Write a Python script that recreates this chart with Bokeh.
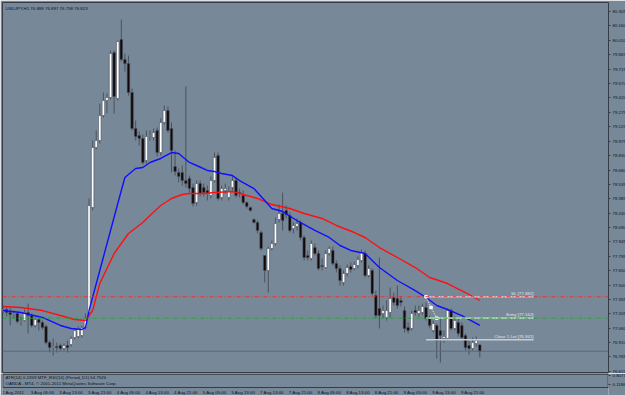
from bokeh.plotting import figure
from bokeh.layouts import column
from bokeh.models import (Range1d, FixedTicker, Span, Label, ColumnDataSource,
                          PrintfTickFormatter)
from bokeh.core.properties import value
from bokeh.embed import file_html
from bokeh.resources import INLINE

# ---------------- data (USDJPY H1) ----------------
opens = [77.230, 77.251, 77.220, 77.199, 77.210, 77.128, 77.138, 77.220, 77.189, 77.087,
         77.148, 77.118, 77.077, 76.912, 76.861, 76.871, 76.881, 76.851, 76.881, 76.892,
         76.964, 76.974, 76.984, 77.066, 77.220, 78.296, 78.911, 78.983, 79.239, 79.393,
         79.424, 79.885, 79.414, 80.018, 79.813, 79.772, 79.475, 79.106, 79.034, 79.004,
         78.778, 79.024, 79.014, 79.086, 78.860, 79.168, 79.291, 79.106, 78.717, 78.655,
         78.655, 78.573, 78.594, 78.501, 78.348, 78.542, 78.501, 78.471, 78.419, 78.573,
         78.829, 78.399, 78.471, 78.399, 78.501, 78.573, 78.450, 78.419, 78.348, 78.296,
         78.173, 78.143, 78.040, 77.804, 77.651, 77.876, 77.927, 78.173, 78.235, 78.266,
         78.214, 78.081, 78.102, 78.143, 77.989, 77.804, 77.774, 77.886, 77.825, 77.702,
         77.681, 77.825, 77.856, 77.722, 77.671, 77.528, 77.620, 77.692, 77.671, 77.702,
         77.753, 77.825, 77.599, 77.651, 77.394, 77.261, 77.210, 77.169, 77.220, 77.374,
         77.363, 77.343, 77.240, 77.066, 77.056, 77.240, 77.210, 77.220, 77.271, 77.159,
         77.035, 77.087, 77.035, 76.954, 76.954, 77.240, 77.056, 77.118, 77.087, 76.984,
         76.881, 76.851, 76.902, 76.888]
highs = [77.292, 77.282, 77.271, 77.240, 77.230, 77.179, 77.251, 77.312, 77.210, 77.169,
         77.169, 77.138, 77.097, 76.933, 76.954, 76.912, 76.902, 76.902, 76.933, 76.974,
         77.056, 77.077, 77.087, 77.210, 78.389, 78.983, 79.086, 79.362, 79.475, 79.465,
         79.906, 79.906, 80.008, 80.223, 79.875, 79.854, 79.516, 79.188, 79.075, 79.045,
         79.086, 79.086, 79.106, 79.116, 79.209, 79.342, 79.332, 79.168, 78.880, 78.696,
         78.727, 79.537, 78.624, 78.542, 78.573, 78.573, 78.542, 78.522, 78.614, 78.860,
         78.860, 78.522, 78.542, 78.512, 78.614, 78.604, 78.491, 78.471, 78.358, 78.307,
         78.184, 78.163, 78.061, 77.804, 77.897, 77.958, 78.194, 78.327, 78.450, 78.317,
         78.245, 78.143, 78.184, 78.163, 78.009, 77.856, 77.958, 77.927, 77.856, 77.774,
         77.856, 77.897, 77.897, 77.753, 77.702, 77.651, 77.712, 77.733, 77.743, 77.794,
         77.866, 77.856, 77.702, 77.671, 77.445, 77.784, 77.292, 77.343, 77.476, 77.425,
         77.497, 77.384, 77.282, 77.118, 77.240, 77.292, 77.292, 77.312, 77.323, 77.189,
         77.138, 77.107, 77.159, 77.035, 77.261, 77.261, 77.179, 77.159, 77.118, 77.005,
         76.933, 76.964, 76.974, 76.897]
lows = [77.199, 77.179, 77.087, 77.159, 77.107, 77.087, 77.128, 77.005, 77.066, 77.066,
        77.035, 77.046, 76.892, 76.810, 76.779, 76.810, 76.830, 76.830, 76.810, 76.871,
        76.943, 76.954, 76.964, 77.046, 77.199, 78.266, 78.891, 78.952, 79.219, 79.260,
        79.403, 79.260, 79.393, 79.793, 79.690, 79.444, 79.086, 78.983, 78.932, 78.737,
        78.747, 78.983, 78.983, 78.819, 78.829, 79.147, 79.065, 78.655, 78.624, 78.553,
        78.522, 78.501, 78.450, 78.307, 78.317, 78.409, 78.409, 78.368, 78.389, 78.553,
        78.368, 78.368, 78.440, 78.368, 78.471, 78.399, 78.399, 78.327, 78.286, 78.255,
        78.132, 78.030, 77.856, 77.528, 77.425, 77.856, 77.907, 78.143, 78.061, 78.184,
        78.040, 78.030, 78.061, 77.958, 77.753, 77.753, 77.753, 77.804, 77.651, 77.651,
        77.671, 77.804, 77.702, 77.630, 77.497, 77.497, 77.589, 77.630, 77.651, 77.671,
        77.733, 77.579, 77.579, 77.394, 77.159, 77.056, 77.159, 77.138, 77.169, 77.292,
        77.261, 77.282, 77.015, 77.005, 77.035, 77.189, 77.179, 77.199, 77.138, 77.056,
        77.015, 76.748, 76.707, 76.912, 76.933, 77.035, 77.035, 76.974, 76.933, 76.830,
        76.789, 76.830, 76.871, 76.758]
closes = [77.251, 77.220, 77.199, 77.210, 77.128, 77.138, 77.220, 77.189, 77.087, 77.148,
          77.118, 77.066, 76.912, 76.861, 76.871, 76.861, 76.851, 76.881, 76.861, 76.954,
          77.035, 77.056, 77.066, 77.159, 78.317, 78.911, 78.983, 79.239, 79.393, 79.424,
          79.875, 79.434, 79.998, 79.813, 79.772, 79.475, 79.106, 79.024, 79.004, 78.758,
          79.024, 79.034, 79.065, 78.860, 79.168, 79.291, 79.086, 78.880, 78.665, 78.614,
          78.573, 78.542, 78.491, 78.337, 78.542, 78.440, 78.450, 78.440, 78.573, 78.809,
          78.389, 78.491, 78.491, 78.471, 78.573, 78.419, 78.440, 78.348, 78.307, 78.266,
          78.143, 78.061, 77.876, 77.651, 77.876, 77.927, 78.132, 78.235, 78.163, 78.225,
          78.061, 78.112, 78.132, 77.989, 77.784, 77.784, 77.927, 77.825, 77.671, 77.692,
          77.825, 77.876, 77.722, 77.671, 77.548, 77.620, 77.681, 77.661, 77.712, 77.763,
          77.835, 77.599, 77.671, 77.415, 77.189, 77.189, 77.240, 77.240, 77.363, 77.323,
          77.292, 77.323, 77.056, 77.035, 77.210, 77.220, 77.240, 77.282, 77.159, 77.087,
          77.107, 76.933, 76.984, 76.974, 77.240, 77.056, 77.138, 77.005, 76.964, 76.861,
          76.851, 76.912, 76.933, 76.823]

# moving averages (bar index, price)
ma_fast_idx = [0, 5, 11, 16, 19, 22, 23, 24, 27, 30, 33, 34, 37, 39, 41, 44, 47, 49, 52, 54,
               57, 59, 61, 64, 66, 70, 73, 75, 78, 82, 87, 91, 94, 97, 101, 105, 110, 115,
               118, 121, 124, 128, 133]
ma_fast = [77.240, 77.220, 77.169, 77.087, 77.056, 77.046, 77.066, 77.240, 77.651, 78.061,
           78.471, 78.604, 78.696, 78.706, 78.758, 78.799, 78.860, 78.850, 78.758, 78.727,
           78.676, 78.665, 78.645, 78.624, 78.573, 78.491, 78.368, 78.286, 78.255, 78.163,
           78.061, 77.989, 77.907, 77.856, 77.825, 77.681, 77.548, 77.445, 77.374, 77.292,
           77.251, 77.189, 77.087]
ma_slow_idx = [0, 5, 11, 16, 20, 23, 25, 27, 31, 35, 39, 41, 44, 47, 50, 52, 56, 59, 64, 66,
               71, 75, 80, 84, 89, 93, 98, 101, 105, 110, 115, 119, 124, 129, 133]
ma_slow = [77.282, 77.271, 77.240, 77.189, 77.148, 77.138, 77.240, 77.517, 77.825, 78.030,
           78.143, 78.214, 78.317, 78.389, 78.430, 78.440, 78.440, 78.450, 78.460, 78.440,
           78.389, 78.327, 78.286, 78.235, 78.184, 78.112, 78.040, 77.989, 77.886, 77.784,
           77.681, 77.579, 77.517, 77.425, 77.343]

# trade levels
level_names = ["SL", "Entry", "Close 1 Lot"]
level_prices = [77.382, 77.162, 76.941]
level_start = [118, 118, 118]
level_end = [148, 148, 148]
trade_idx = [118, 119.4, 121]
trade_px = [77.382, 77.272, 77.162]

price_ticks = [80.305, 80.160, 80.010, 79.865, 79.715, 79.570, 79.420, 79.275, 79.125,
               78.975, 78.830, 78.680, 78.535, 78.385, 78.240, 78.090, 77.945, 77.795,
               77.650, 77.500, 77.355, 77.205, 77.060, 76.910, 76.765, 76.615]
time_label_idx = [0, 8, 16, 24, 32, 40, 48, 56, 64, 72, 80, 88, 96, 104, 112, 120, 128]
time_labels = ["2 Aug 2011", "3 Aug 05:00", "3 Aug 13:00", "3 Aug 21:00", "4 Aug 05:00",
               "4 Aug 13:00", "4 Aug 21:00", "5 Aug 05:00", "5 Aug 13:00", "7 Aug 13:00",
               "7 Aug 21:00", "8 Aug 05:00", "8 Aug 13:00", "8 Aug 21:00", "9 Aug 05:00",
               "9 Aug 13:00", "9 Aug 21:00"]
sub_ticks = [0.8073, 0.1186]

# ---------------- style ----------------
BG = "#778899"
FRAME = "#363c45"
WICK = "#4b535e"
FONT = "Liberation Sans"
FS = "4.4px"
TXT = "#0e141c"

X0, X1 = -0.14, 168.9

n = len(closes)
idx = list(range(n))
bull = [c >= o for o, c in zip(opens, closes)]
src = ColumnDataSource(dict(
    x=idx, h=highs, l=lows,
    top=[max(o, c) for o, c in zip(opens, closes)],
    bot=[min(o, c) for o, c in zip(opens, closes)],
    fill=["#ffffff" if b else "#120606" for b in bull],
))

p = figure(frame_width=606, frame_height=370,
           x_range=Range1d(X0, X1), y_range=Range1d(76.605, 80.398),
           output_backend="svg", toolbar_location=None,
           x_axis_location=None, y_axis_location="right",
           min_border_left=2, min_border_right=17, min_border_top=2, min_border_bottom=1,
           background_fill_color=BG, border_fill_color=BG,
           outline_line_color=FRAME, outline_line_width=1)
p.xgrid.visible = False
p.ygrid.visible = False
ax = p.yaxis[0]
ax.ticker = FixedTicker(ticks=price_ticks)
ax.formatter = PrintfTickFormatter(format="%.3f")
ax.axis_line_color = None
ax.major_tick_out = 2
ax.major_tick_in = 0
ax.major_tick_line_color = FRAME
ax.minor_tick_line_color = None
ax.major_label_standoff = 2
ax.major_label_text_font = FONT
ax.major_label_text_font_size = FS
ax.major_label_text_color = TXT

# horizontal order lines
p.add_layout(Span(location=level_prices[0], dimension="width", line_color="#e8353c",
                  line_dash="4 2 1 2", line_width=1))
p.add_layout(Span(location=level_prices[1], dimension="width", line_color="#1faa2a",
                  line_dash="4 2 1 2", line_width=1))
p.add_layout(Span(location=closes[-1], dimension="width", line_color="#5f6978",
                  line_width=1))

# candles
p.segment(x0="x", x1="x", y0="h", y1="l", source=src, line_color=WICK, line_width=1)
p.vbar(x="x", top="top", bottom="bot", width=0.7, source=src,
       fill_color="fill", line_color=WICK, line_width=0.6)

# moving averages
p.line(ma_slow_idx, ma_slow, line_color="#ff1010", line_width=1.4)
p.line(ma_fast_idx, ma_fast, line_color="#1010ff", line_width=1.4)

# trade objects
p.segment(x0=level_start, x1=level_end, y0=level_prices, y1=level_prices,
          line_color="#c8cdd5", line_width=1.6)
p.text(x=level_end, y=level_prices,
       text=[f"{nm} [{v:.3f}]" for nm, v in zip(level_names, level_prices)],
       text_align="right", text_baseline="bottom", y_offset=-1,
       text_font=value(FONT), text_font_size=FS, text_color="#e2e6ec")
p.line(trade_idx, trade_px, line_color="#e8ecf2", line_dash="1 1", line_width=1)
p.scatter(trade_idx, trade_px, marker="square", size=2.5, fill_color="white",
          line_color="white")

p.add_layout(Label(x=3, y=364, x_units="screen", y_units="screen",
                   text="USDJPY,H1  76.888 76.897 76.758 76.823",
                   text_font=FONT, text_font_size=FS, text_color=TXT,
                   text_baseline="middle"))
p.add_layout(Label(x=607, y=closes[-1], x_units="screen",
                   text=f"{closes[-1]:.3f}", text_font=FONT, text_font_size=FS,
                   text_color="white", background_fill_color="black",
                   text_baseline="middle"))

# ---------------- sub window ----------------
p2 = figure(frame_width=606, frame_height=22,
            x_range=p.x_range, y_range=Range1d(-0.7231, 0.9603),
            output_backend="svg", toolbar_location=None,
            x_axis_location=None, y_axis_location="right",
            min_border_left=2, min_border_right=17, min_border_top=0, min_border_bottom=0,
            background_fill_color=BG, border_fill_color=BG, outline_line_color=None)
p2.xgrid.visible = False
p2.ygrid.visible = False
a2 = p2.yaxis[0]
a2.ticker = FixedTicker(ticks=sub_ticks)
a2.formatter = PrintfTickFormatter(format="%.4f")
a2.axis_line_color = None
a2.major_tick_out = 2
a2.major_tick_in = 0
a2.major_tick_line_color = FRAME
a2.minor_tick_line_color = None
a2.major_label_standoff = 2
a2.major_label_text_font = FONT
a2.major_label_text_font_size = FS
a2.major_label_text_color = TXT

p2.add_layout(Span(location=0.93, dimension="width", line_color=FRAME, line_width=1.5))
p2.add_layout(Span(location=-0.111, dimension="width", line_color=FRAME, line_width=1))
p2.segment(x0=[X0 + 0.1, X1 - 0.1], x1=[X0 + 0.1, X1 - 0.1], y0=[-0.111, -0.111],
           y1=[0.96, 0.96], line_color=FRAME, line_width=1)

p2.add_layout(Label(x=3, y=18, x_units="screen", y_units="screen",
                    text="ATR(14) 0.2359  MTF_RSI(14) (Period_D1) 54.7526",
                    text_font=FONT, text_font_size=FS, text_color=TXT,
                    text_baseline="middle"))
p2.add_layout(Label(x=3, y=12, x_units="screen", y_units="screen",
                    text="OANDA - MT4, \u00a9 2001-2011 MetaQuotes Software Corp.",
                    text_font=FONT, text_font_size=FS, text_color=TXT,
                    text_baseline="middle"))
for ti, tl in zip(time_label_idx, time_labels):
    p2.add_layout(Label(x=ti, y=3, y_units="screen", x_offset=-1, text=tl,
                        text_font=FONT, text_font_size=FS, text_color=TXT,
                        text_align="left", text_baseline="middle"))

layout = column(p, p2, spacing=0)
open("out.html", "w").write(file_html(layout, INLINE))
